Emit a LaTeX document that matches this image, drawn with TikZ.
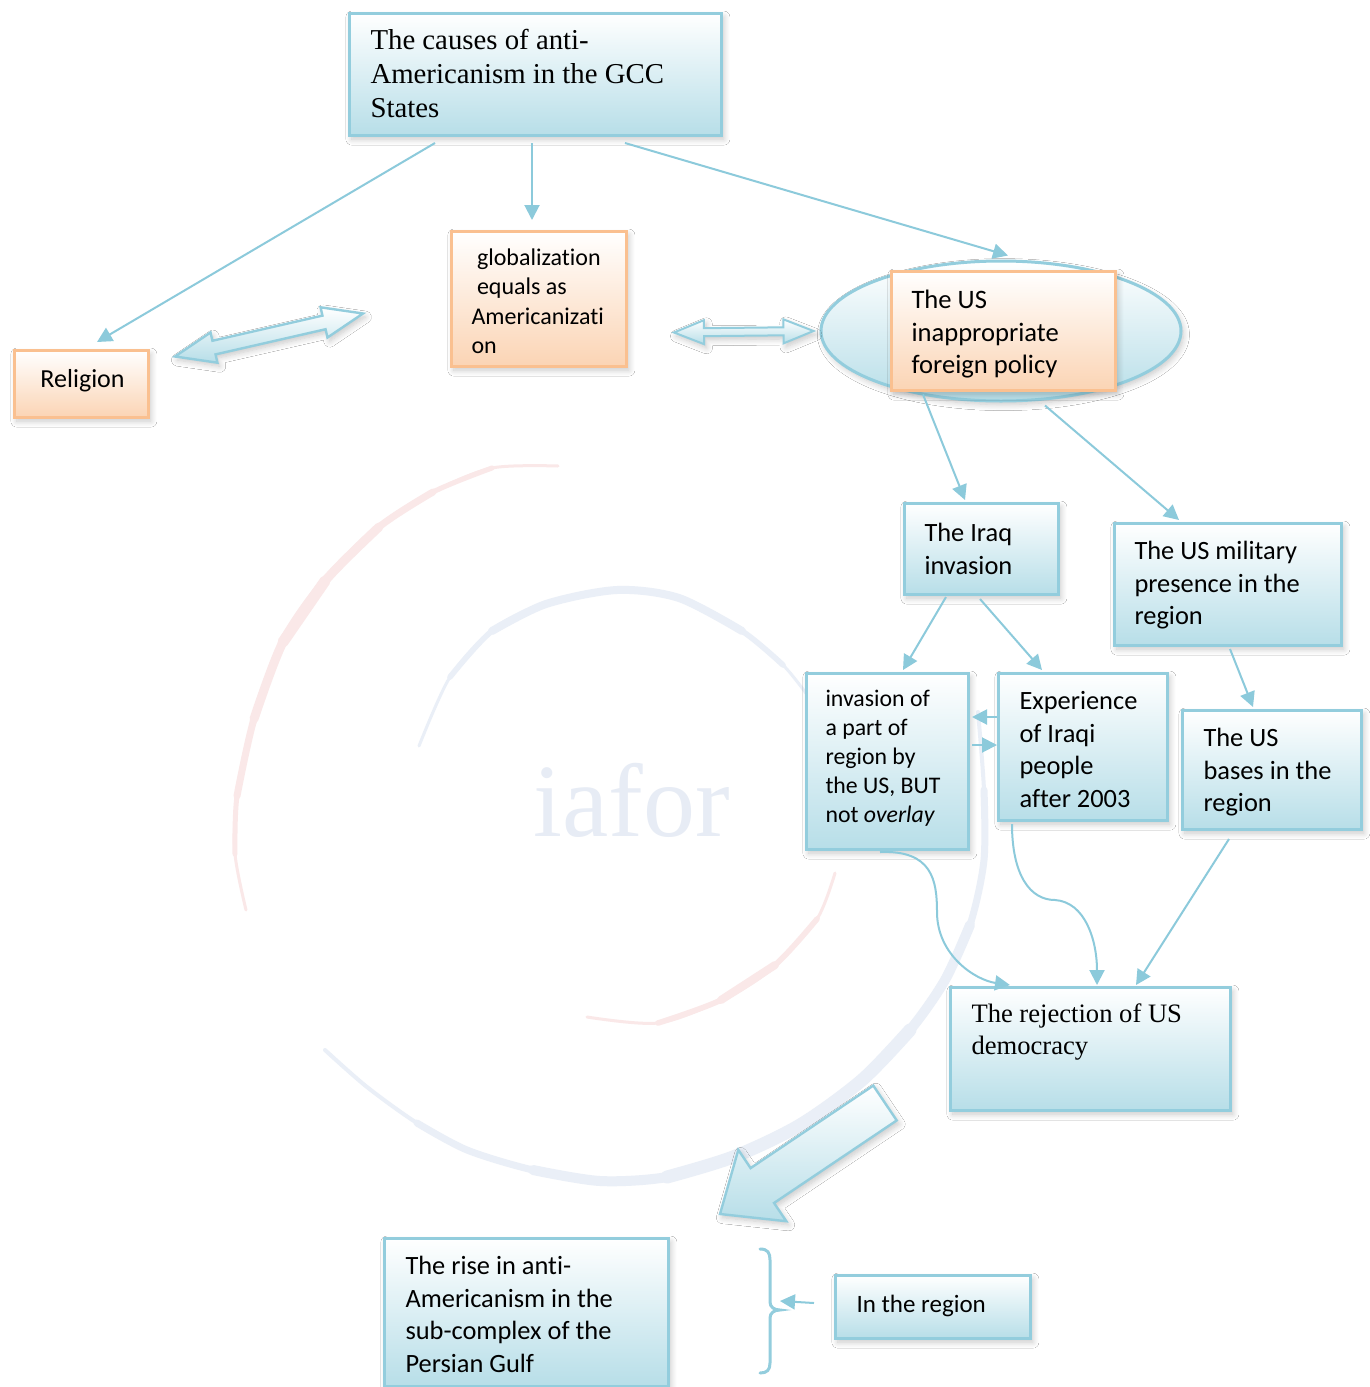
\documentclass[tikz,border=0pt]{standalone}
\usepackage{fontspec}
\setmainfont{Carlito}[Ligatures={NoCommon}]
\newfontfamily\tnr{Liberation Serif}
\usetikzlibrary{arrows.meta,calc,shadows.blur,shapes.geometric}
\newlength\pxu \setlength\pxu{0.5pt}
\definecolor{bbord}{RGB}{147,205,221}
\definecolor{bfill}{RGB}{183,222,232}
\definecolor{obord}{RGB}{250,192,144}
\definecolor{ofill}{RGB}{251,212,180}
\definecolor{lblue}{RGB}{140,202,219}
\definecolor{wmblue}{RGB}{234,239,247}
\definecolor{wmred}{RGB}{250,232,232}
\definecolor{wmtext}{RGB}{231,236,245}
% #1 width px, #2 height px, #3 left pad px, #4 first baseline offset px, #5 font, #6 text
\newcommand\inbox[6]{\makebox[#1\pxu][l]{\hspace*{#3\pxu}\parbox[t][#2\pxu][t]{\dimexpr#1\pxu-#3\pxu\relax}{#5\raggedright\vspace*{\dimexpr#4\pxu-0.7\baselineskip\relax}\strut#6}}}
% double block arrow: #1 style, #2 A, #3 B, #4 shaft half, #5 head half, #6 head length
\newcommand\dblarrow[6]{%
 \coordinate (#2-h) at ($(#2)!#6!(#3)$);
 \coordinate (#3-h) at ($(#3)!#6!(#2)$);
 \path[#1] (#2) -- ($(#2-h)!#5!90:(#3)$) -- ($(#2-h)!#4!90:(#3)$) -- ($(#3-h)!#4!-90:(#2)$) -- ($(#3-h)!#5!-90:(#2)$) -- (#3) -- ($(#3-h)!#5!90:(#2)$) -- ($(#3-h)!#4!90:(#2)$) -- ($(#2-h)!#4!-90:(#3)$) -- ($(#2-h)!#5!-90:(#3)$) -- cycle;}
% single block arrow: #1 style, #2 tail, #3 tip, #4 shaft half, #5 head half, #6 head length
\newcommand\sglarrow[6]{%
 \coordinate (#3-h) at ($(#3)!#6!(#2)$);
 \path[#1] ($(#2)!#4!90:(#3)$) -- ($(#3-h)!#4!90:(#3)$) -- ($(#3-h)!#5!90:(#3)$) -- (#3) -- ($(#3-h)!#5!-90:(#3)$) -- ($(#3-h)!#4!-90:(#3)$) -- ($(#2)!#4!-90:(#3)$) -- cycle;}
\tikzset{
 shad/.style={blur shadow={shadow xshift=1.2pt, shadow yshift=-1.8pt, shadow blur radius=3pt, shadow blur steps=8, shadow opacity=22}},
 bluebox/.style={rectangle, draw=bbord, line width=1.5pt, top color=white, bottom color=bfill, inner sep=0pt, anchor=north west, shad},
 orangebox/.style={rectangle, draw=obord, line width=1.5pt, top color=white, bottom color=ofill, inner sep=0pt, anchor=north west, shad},
 conn/.style={draw=lblue, line width=1pt, -{Triangle[length=7.5pt,width=7.5pt]}},
 blockarr/.style={draw=bbord, line width=1.2pt, line join=miter, top color=white, bottom color=bfill, shad},
 wm/.style={line cap=round, line join=round},
}
\begin{document}
\begin{tikzpicture}[x=0.5pt,y=-0.5pt]
\fill[white] (0,0) rectangle (1370,1387);
\useasboundingbox (0,0) rectangle (1370,1387);

% ---- watermark ----
\node[font=\tnr\fontsize{52}{52}\selectfont, text=wmtext, anchor=base west, inner sep=0pt] (wm) at (533,836) {iafor};
\draw[wm, wmred, line width=1.5pt] plot[smooth] coordinates {(558,466) (492,468) (433,492) (379,527) (325,581) (283,642) (254,719) (237,796) (235,854) (246,910)};
\draw[wm, wmred, line width=2.5pt] plot[smooth] coordinates {(492,468) (433,492) (379,527) (325,581) (283,642) (254,719) (237,796) (235,854)};
\draw[wm, wmred, line width=3.5pt] plot[smooth] coordinates {(433,492) (379,527) (325,581) (283,642) (254,719) (237,796)};
\draw[wm, wmred, line width=4.5pt] plot[smooth] coordinates {(379,527) (325,581) (283,642) (254,719)};
\draw[wm, wmred, line width=5.5pt] plot[smooth] coordinates {(325,581) (283,642)};
\draw[wm, wmred, line width=1.5pt] plot[smooth] coordinates {(835,873) (817,919) (775,965) (721,1000) (658,1023) (587,1017)};
\draw[wm, wmred, line width=2.8pt] plot[smooth] coordinates {(817,919) (775,965) (721,1000) (658,1023)};
\draw[wm, wmred, line width=4pt] plot[smooth] coordinates {(775,965) (721,1000)};
\draw[wm, wmblue, line width=1.5pt] plot[smooth] coordinates {(419,746) (450,677) (492,631) (546,604) (617,590) (679,598) (742,631) (783,665) (808,696)};
\draw[wm, wmblue, line width=2.8pt] plot[smooth] coordinates {(450,677) (492,631) (546,604) (617,590) (679,598) (742,631) (783,665)};
\draw[wm, wmblue, line width=4pt] plot[smooth] coordinates {(492,631) (546,604) (617,590) (679,598) (742,631)};
\draw[wm, wmblue, line width=2pt] plot[smooth] coordinates {(978,712) (984,790) (984,860) (970,925) (945,980) (910,1030) (862,1080) (800,1125) (733,1157) (667,1177) (600,1181) (533,1170) (467,1150) (417,1123) (367,1087) (325,1050)};
\draw[wm, wmblue, line width=3.5pt] plot[smooth] coordinates {(984,790) (984,860) (970,925) (945,980) (910,1030) (862,1080) (800,1125) (733,1157) (667,1177) (600,1181) (533,1170) (467,1150) (417,1123)};
\draw[wm, wmblue, line width=5pt] plot[smooth] coordinates {(970,925) (945,980) (910,1030) (862,1080) (800,1125) (733,1157) (667,1177) (600,1181) (533,1170)};
\draw[wm, wmblue, line width=6.5pt] plot[smooth] coordinates {(910,1030) (862,1080) (800,1125) (733,1157) (667,1177)};

% ---- boxes ----
\node[bluebox] (top) at (348,12) {\inbox{372}{122}{21}{36}{\tnr\fontsize{14.4}{17}\selectfont}{The causes of anti-\\Americanism in the GCC\\States}};
\node[orangebox] (rel) at (13,349) {\inbox{134}{67}{26}{37}{\fontsize{13}{16}\selectfont}{Religion}};
\node[orangebox] (glob) at (450,230) {\inbox{175}{135}{20}{34}{\fontsize{12}{14.65}\selectfont}{\hspace*{0.23em}globalization\\\hspace*{0.23em}equals as\\Americanizati\\on}};
\node[ellipse, draw=bbord, line width=1.5pt, top color=white, bottom color=bfill, minimum width=180pt, minimum height=70pt, inner sep=0pt, shad] (ell) at (1001,331) {};
\node[orangebox] (pol) at (890,270) {\inbox{224}{119}{20}{37}{\fontsize{13.3}{16.25}\selectfont}{The US\\inappropriate\\foreign policy}};
\node[bluebox] (iraq) at (903,502) {\inbox{154}{91}{20}{38}{\fontsize{13.2}{16.25}\selectfont}{The Iraq\\invasion}};
\node[bluebox] (mil) at (1113,522) {\inbox{227}{122}{20}{36}{\fontsize{13.2}{16.25}\selectfont}{The US military\\presence in the\\region}};
\node[bluebox] (inv) at (805,672) {\inbox{162}{176}{19}{33}{\fontsize{11.9}{14.5}\selectfont}{invasion of\\a part of\\region by\\the US, BUT\\not \textit{overlay}}};
\node[bluebox] (exp) at (997,672) {\inbox{169}{147}{21}{36}{\fontsize{13.2}{16.25}\selectfont}{Experience\\of Iraqi\\people\\after 2003}};
\node[bluebox] (bases) at (1181,709) {\inbox{179}{119}{21}{36}{\fontsize{13.2}{16.25}\selectfont}{The US\\bases in the\\region}};
\node[bluebox] (rej) at (949,986) {\inbox{280}{123}{21}{35}{\tnr\fontsize{13.3}{15.75}\selectfont}{The rejection of US\\democracy}};
\node[bluebox] (rise) at (383,1237) {\inbox{284}{148}{21}{36}{\fontsize{13.2}{16.3}\selectfont}{The rise in anti-\\Americanism in the\\sub-complex of the\\Persian Gulf}};
\node[bluebox] (inreg) at (834,1274) {\inbox{195}{63}{21}{37}{\fontsize{12.5}{15}\selectfont}{In the region}};

% ---- block arrows ----
\coordinate (ra) at ($(rel.east)+(25,-27.5)$);
\coordinate (rb) at ($(glob.west)+(-87,14.5)$);
\dblarrow{blockarr}{ra}{rb}{3.5pt}{7.75pt}{20pt}
\coordinate (ga) at ($(glob.east)+(46,33.5)$);
\coordinate (gb) at ($(ell.west)+(-6,0)$);
\dblarrow{blockarr, line width=1pt}{ga}{gb}{2pt}{6pt}{15pt}
\coordinate (bt) at ($(rej.south west)+(-64,-9)$);
\coordinate (bp) at ($(rise.north east)+(50,-23)$);
\sglarrow{blockarr}{bt}{bp}{10.5pt}{21.5pt}{25.5pt}

% ---- brace ----
\draw[draw=bbord, line width=1.5pt, line cap=round] (760,1249) .. controls (768,1249) and (770,1253) .. (770,1260) -- (770,1302) .. controls (770,1307) and (774,1310) .. (780,1310) .. controls (774,1310) and (770,1313) .. (770,1318) -- (770,1363) .. controls (770,1370) and (767,1373) .. (760,1373);
\coordinate (brtip) at (780,1301);
\draw[conn] ($(inreg.west)+(-20,-4)$) -- (brtip);

% ---- connectors ----
\draw[conn] ($(top.south west)+(87,6)$) -- ($(rel.north west)+(84,-7)$);
\draw[conn] ($(top.south west)+(184,6)$) -- ($(glob.north west)+(82,-10)$);
\draw[conn] ($(top.south west)+(277,6)$) -- ($(ell.north)+(7,-4)$);
\draw[conn] ($(ell.south)+(-78,-8)$) -- ($(iraq.north west)+(62,-2)$);
\draw[conn] ($(ell.south)+(44,3)$) -- ($(mil.north west)+(66,-2)$);
\draw[conn] ($(iraq.south west)+(43,1)$) -- ($(inv.north west)+(98,-2)$);
\draw[conn] ($(iraq.south west)+(77,3)$) -- ($(exp.north west)+(45,-2)$);
\draw[conn] ($(mil.south west)+(117,2)$) -- ($(bases.north west)+(72,-2)$);
\draw[conn] ($(exp.north west)+(0,45)$) -- ($(inv.north east)+(2,45)$);
\draw[conn] ($(inv.north east)+(2,73)$) -- ($(exp.north west)+(0,73)$);
\draw[conn] ($(inv.south west)+(75,1)$) .. controls (932,850) and (937,880) .. (937,912) .. controls (937,955) and (975,980) .. ($(rej.north west)+(61,-1)$);
\draw[conn] ($(exp.south west)+(15,2)$) .. controls (1012,875) and (1030,900) .. (1055,900) .. controls (1085,902) and (1097,940) .. ($(rej.north west)+(148,-1)$);
\draw[conn] ($(bases.south west)+(48,8)$) -- ($(rej.north west)+(187,-1)$);
\end{tikzpicture}
\end{document}
